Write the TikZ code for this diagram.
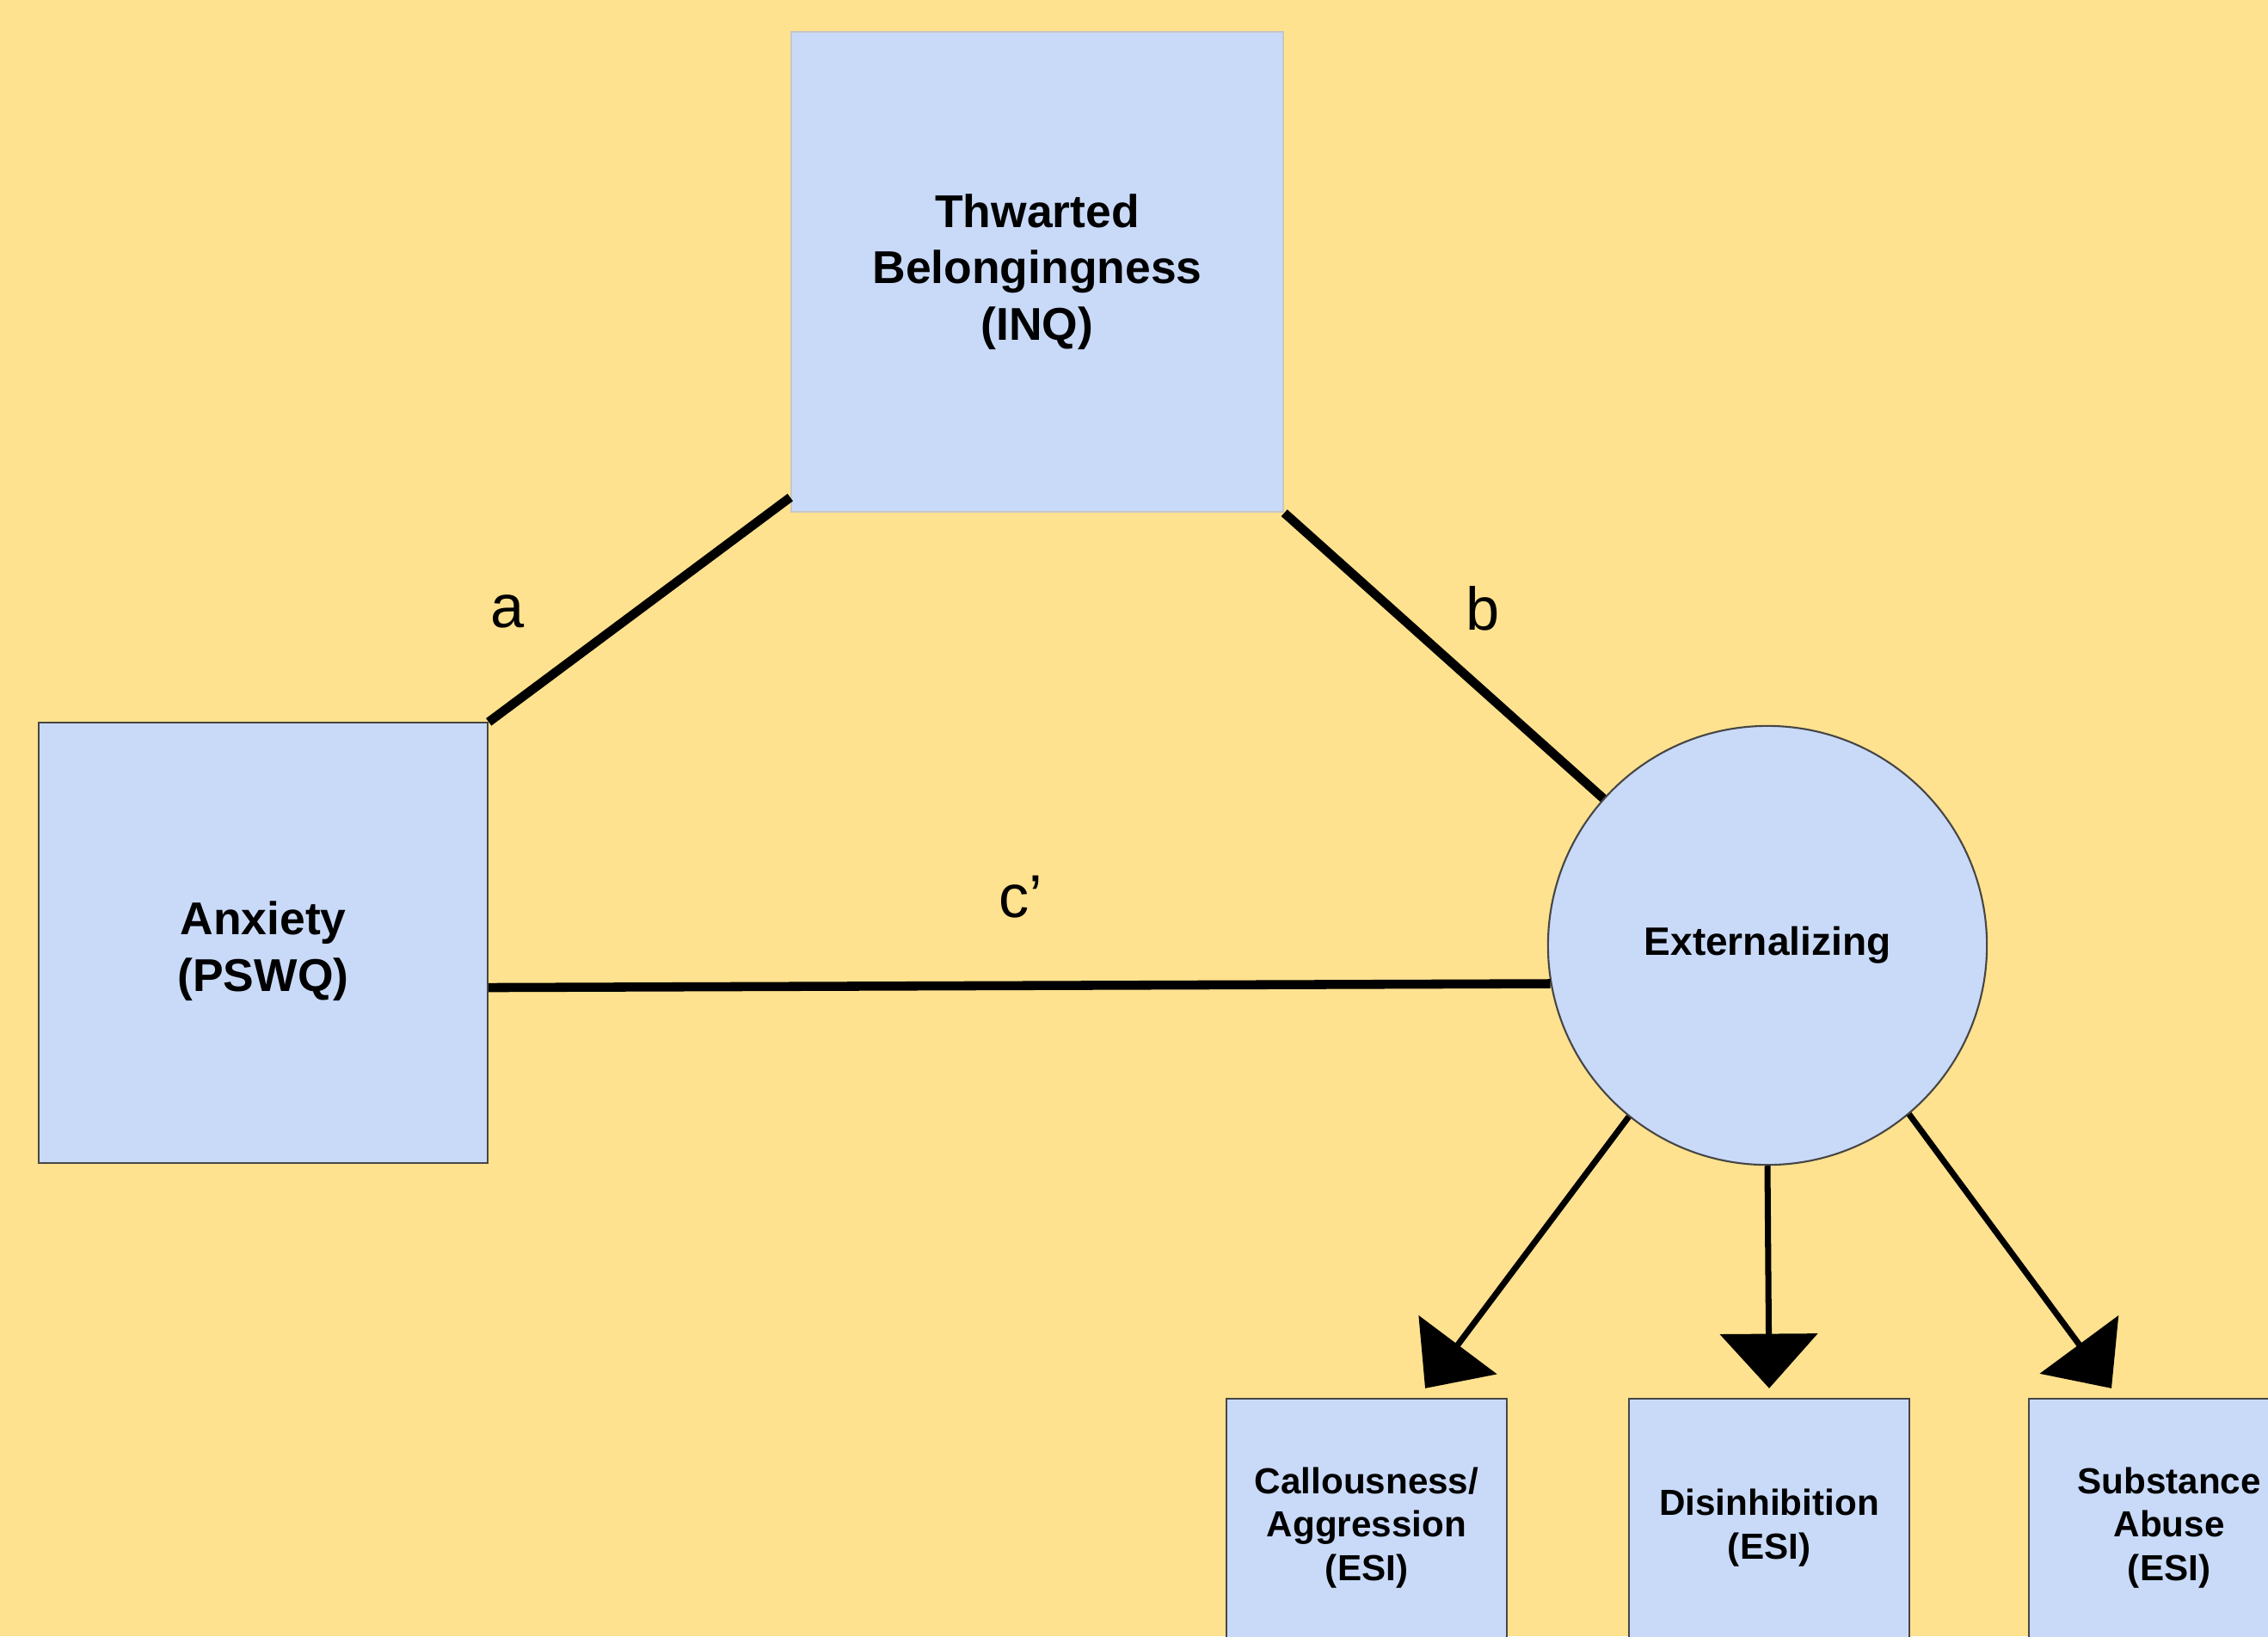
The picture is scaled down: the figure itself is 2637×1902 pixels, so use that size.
\documentclass[tikz,border=0pt]{standalone}
\usepackage{fontspec}
\setmainfont{Liberation Sans}
\definecolor{medyellow}{RGB}{255,226,143}
\definecolor{medblue}{RGB}{201,218,248}
\definecolor{medgray}{RGB}{70,70,70}
\usetikzlibrary{arrows.meta,positioning,calc}

\begin{document}
\begin{tikzpicture}[x=0.01cm,y=-0.01cm,
  varbox/.style={rectangle,fill=medblue,draw=medgray,line width=0.6pt,inner sep=0pt,align=center,
    font=\fontsize{15.2}{18.7}\selectfont\bfseries},
  itembox/.style={varbox,minimum width=3.26cm,minimum height=3.0cm,
    font=\fontsize{12}{14.3}\selectfont\bfseries},
  pathline/.style={line width=3pt},
  loadarrow/.style={line width=2pt,-{Triangle[length=18pt,width=32pt]}},
  pathlabel/.style={font=\fontsize{20}{24}\selectfont}]
  % Background and page size
  \path[use as bounding box,fill=medyellow] (0,0) rectangle (2637,1902);
  \clip (0,0) rectangle (2637,1902);
  % Mediator
  \node[varbox,draw=gray!45,minimum width=5.72cm,minimum height=5.58cm] (thw) at (1206,316)
    {Thwarted\\Belongingness\\(INQ)};
  % Predictor
  \node[varbox,minimum width=5.22cm,minimum height=5.11cm] (anx) at (306,1096)
    {\raisebox{-0.1cm}[\height][\depth]{\begin{tabular}{@{}c@{}}Anxiety\\(PSWQ)\end{tabular}}};
  % Latent outcome
  \node[circle,fill=medblue,draw=medgray,line width=0.6pt,minimum size=5.1cm,inner sep=0pt,
    font=\fontsize{13.1}{16}\selectfont\bfseries] (ext) at (2055,1099) {Externalizing};
  % Indicators
  \node[itembox] (call) at (1589,1776) {Callousness/\\Aggression\\(ESI)};
  \node[itembox] (dis) at (2057,1776) {Disinhibition\\(ESI)};
  \node[itembox] (sub) at (2522,1776) {Substance\\Abuse\\(ESI)};
  % Paths a, b, c'
  \draw[pathline] (anx.north east) -- ([yshift=0.18cm]thw.south west);
  \draw[pathline] (thw.south east) -- (ext);
  \draw[pathline] ([yshift=-0.52cm]anx.east) -- (ext.190);
  \node[pathlabel] (la) at (590,711) {a};
  \node[pathlabel] (lb) at (1724,707) {b};
  \node[pathlabel] (lc) at (1187,1043) {c’};
  % Loadings
  \draw[loadarrow] (ext.231) -- ([xshift=0.68cm,yshift=0.11cm]call.north);
  \draw[loadarrow] (ext.south) -- ([yshift=0.11cm]dis.north);
  \draw[loadarrow] (ext.310) -- ([xshift=-0.67cm,yshift=0.11cm]sub.north);
\end{tikzpicture}
\end{document}
